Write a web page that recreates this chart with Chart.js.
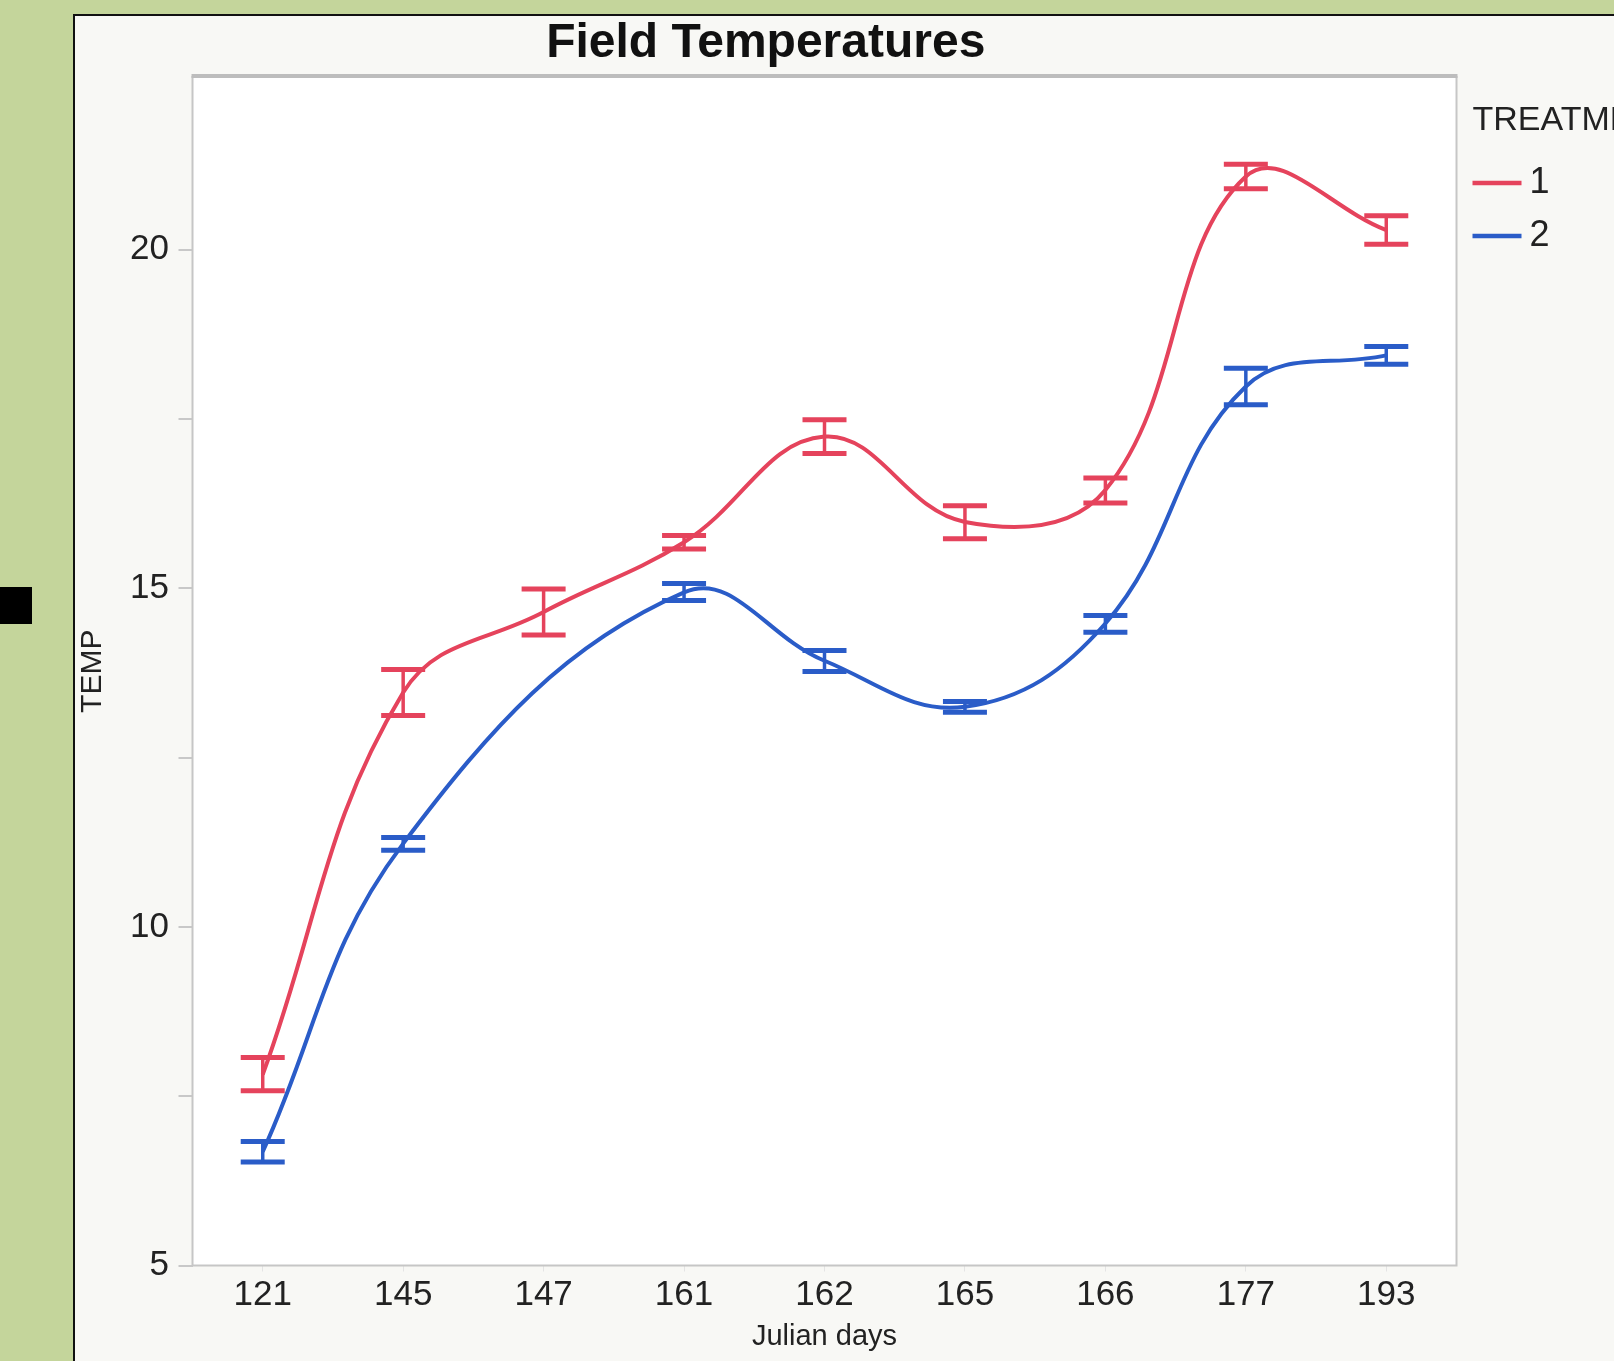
<!DOCTYPE html>
<html>
<head>
<meta charset="utf-8">
<script src="https://cdn.jsdelivr.net/npm/chart.js@4.4.1/dist/chart.umd.min.js"></script>
<style>
  html, body { margin: 0; padding: 0; }
  body { width: 1614px; height: 1361px; background: #c4d59b; overflow: hidden; position: relative; }
  #square { position: absolute; left: 0; top: 587px; width: 32px; height: 37px; background: #000; }
  #panel { position: absolute; left: 73px; top: 14px; width: 1560px; height: 1370px;
           border-left: 2px solid #111; border-top: 2px solid #111; background: #f8f8f5; }
  #c { position: absolute; left: 0; top: 0; }
</style>
</head>
<body>
<div id="square"></div>
<div id="panel"><canvas id="c" width="1539" height="1345"></canvas></div>
<script>
// ---- data ----
const days = ['121', '145', '147', '161', '162', '165', '166', '177', '193'];
const treat1Mean = [7.82, 13.46, 14.65, 15.68, 17.24, 15.98, 16.45, 21.08, 20.29];
const treat1Low  = [7.58, 13.12, 14.31, 15.58, 16.99, 15.73, 16.26, 20.90, 20.08];
const treat1High = [8.07, 13.80, 14.99, 15.78, 17.49, 16.22, 16.63, 21.26, 20.50];
const treat2Mean = [6.68, 11.23, null, 14.94, 13.93, 13.25, 14.48, 17.98, 18.44];
const treat2Low  = [6.53, 11.13, null, 14.82, 13.77, 13.17, 14.35, 17.71, 18.31];
const treat2High = [6.83, 11.32, null, 15.07, 14.08, 13.33, 14.60, 18.25, 18.57];
const yTicks = [5, 7.5, 10, 12.5, 15, 17.5, 20];
const yLabelTicks = [5, 10, 15, 20];
const seriesNames = ['1', '2'];
const legendTitle = 'TREATMENT';

const RED = '#e5435c';
const BLUE = '#2a5cc8';
const FONT = "'Liberation Sans', Arial, Helvetica, sans-serif";

const errorBars = [
  { low: treat1Low, high: treat1High },
  { low: treat2Low, high: treat2High }
];

const framePlugin = {
  id: 'frame',
  beforeDraw(chart) {
    const { ctx, chartArea: a } = chart;
    ctx.save();
    ctx.fillStyle = '#ffffff';
    ctx.fillRect(a.left, a.top, a.right - a.left, a.bottom - a.top);
    ctx.restore();
  },
  afterDraw(chart) {
    const { ctx, chartArea: a } = chart;
    ctx.save();
    ctx.strokeStyle = '#c6c6c6';
    ctx.lineWidth = 2;
    ctx.strokeRect(a.left, a.top, a.right - a.left, a.bottom - a.top);
    ctx.fillStyle = '#bdbdbd';
    ctx.fillRect(a.left - 1, a.top - 3, a.right - a.left + 2, 4);
    ctx.restore();
  }
};

const errorBarPlugin = {
  id: 'errorBars',
  afterDatasetsDraw(chart) {
    const { ctx } = chart;
    const yScale = chart.scales.y;
    chart.data.datasets.forEach((ds, i) => {
      const meta = chart.getDatasetMeta(i);
      const eb = errorBars[i];
      ctx.save();
      ctx.strokeStyle = ds.borderColor;
      meta.data.forEach((pt, j) => {
        if (eb.low[j] == null || eb.high[j] == null) return;
        const x = pt.x;
        const yl = yScale.getPixelForValue(eb.low[j]);
        const yh = yScale.getPixelForValue(eb.high[j]);
        ctx.lineWidth = 3.5;
        ctx.beginPath();
        ctx.moveTo(x, yl); ctx.lineTo(x, yh);
        ctx.stroke();
        ctx.lineWidth = 5;
        ctx.beginPath();
        ctx.moveTo(x - 22, yl); ctx.lineTo(x + 22, yl);
        ctx.moveTo(x - 22, yh); ctx.lineTo(x + 22, yh);
        ctx.stroke();
      });
      ctx.restore();
    });
  }
};

const legendPlugin = {
  id: 'sideLegend',
  afterDraw(chart) {
    const { ctx, chartArea: a } = chart;
    const x0 = a.right + 16;
    ctx.save();
    ctx.fillStyle = '#222';
    ctx.textBaseline = 'middle';
    ctx.textAlign = 'left';
    ctx.font = "34px " + FONT;
    ctx.fillText(legendTitle, x0, a.top + 44);
    chart.data.datasets.forEach((ds, i) => {
      const y = a.top + 106 + i * 53;
      ctx.strokeStyle = ds.borderColor;
      ctx.lineWidth = 4.5;
      ctx.beginPath();
      ctx.moveTo(x0, y); ctx.lineTo(x0 + 49, y);
      ctx.stroke();
      ctx.fillStyle = '#222';
      ctx.font = "36px " + FONT;
      ctx.fillText(ds.label, x0 + 57, y);
    });
    ctx.restore();
  }
};

new Chart(document.getElementById('c'), {
  type: 'line',
  data: {
    labels: days,
    datasets: [
      { label: seriesNames[0], data: treat1Mean, borderColor: RED, backgroundColor: RED,
        borderWidth: 4, tension: 0.4, pointRadius: 0, spanGaps: true, fill: false },
      { label: seriesNames[1], data: treat2Mean, borderColor: BLUE, backgroundColor: BLUE,
        borderWidth: 4, tension: 0.4, pointRadius: 0, spanGaps: true, fill: false }
    ]
  },
  options: {
    responsive: false,
    animation: false,
    devicePixelRatio: 1,
    layout: { padding: { left: 0, top: 0, right: 157.5, bottom: 0 } },
    plugins: {
      legend: { display: false },
      tooltip: { enabled: false },
      title: {
        display: true,
        text: 'Field Temperatures',
        color: '#111',
        font: { family: FONT, size: 48, weight: 'bold', lineHeight: 1 },
        padding: { top: 4, bottom: 9 }
      }
    },
    scales: {
      x: {
        type: 'category',
        offset: true,
        border: { display: false },
        grid: { display: true, drawOnChartArea: false, tickLength: 6, color: '#e4e4e4' },
        ticks: { color: '#222', font: { family: FONT, size: 35 }, padding: 3, maxRotation: 0, autoSkip: false },
        title: { display: true, text: 'Julian days', color: '#222',
                 font: { family: FONT, size: 29, lineHeight: 1 }, padding: { top: 0, bottom: 10 } },
        afterFit(scale) { scale.height = 95.5; }
      },
      y: {
        type: 'linear',
        min: 5,
        max: 22.55,
        border: { display: false },
        grid: { display: true, drawOnChartArea: false, tickLength: 14, color: '#c8c8c8', lineWidth: 2 },
        afterBuildTicks(scale) { scale.ticks = yTicks.map(v => ({ value: v })); },
        ticks: {
          color: '#222',
          font: { family: FONT, size: 35 },
          padding: 9.5,
          callback: (v) => (yLabelTicks.includes(v) ? String(v) : '')
        },
        title: { display: true, text: 'TEMP', color: '#222',
                 font: { family: FONT, size: 30, lineHeight: 1 }, padding: { top: 3, bottom: 0 } },
        afterFit(scale) { scale.width = 117.5; }
      }
    }
  },
  plugins: [framePlugin, errorBarPlugin, legendPlugin]
});
</script>
</body>
</html>
